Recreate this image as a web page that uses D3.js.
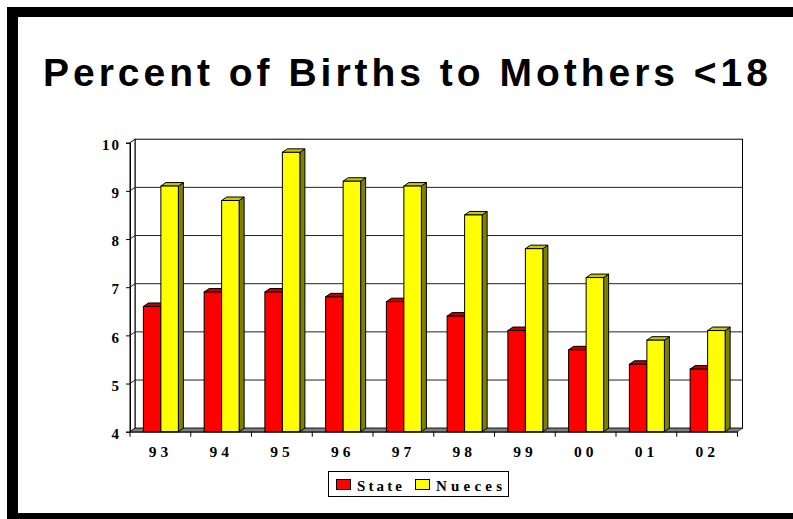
<!DOCTYPE html>
<html>
<head>
<meta charset="utf-8">
<script src="https://cdn.jsdelivr.net/npm/d3@7"></script>
<style>
  body { margin: 0; background: #fff; }
  .serif { font-family: "Liberation Serif", "Times New Roman", Tinos, Times, serif; font-weight: bold; }
</style>
</head>
<body>
<svg id="chart" width="793" height="519"></svg>
<script>
// data
const years = ["93", "94", "95", "96", "97", "98", "99", "00", "01", "02"];
const stateVals = [6.6, 6.9, 6.9, 6.8, 6.7, 6.4, 6.1, 5.7, 5.4, 5.3];
const nuecesVals = [9.1, 8.8, 9.8, 9.2, 9.1, 8.5, 7.8, 7.2, 5.9, 6.1];
const yTicks = [4, 5, 6, 7, 8, 9, 10];
const seriesNames = ["State", "Nueces"];

const svg = d3.select("#chart");

// frame: thick black border top/left/bottom
svg.append("rect").attr("x", 7).attr("y", 7).attr("width", 800).attr("height", 520).attr("fill", "#000");
svg.append("rect").attr("x", 18).attr("y", 17).attr("width", 800).attr("height", 496).attr("fill", "#fff");

// title
svg.append("text")
    .attr("x", 43)
    .attr("y", 86)
    .attr("textLength", 725)
    .attr("lengthAdjust", "spacing")
    .style("font-family", "'Liberation Sans', Arial, sans-serif")
    .style("font-weight", "bold")
    .style("font-size", "39px")
    .text("Percent of Births to Mothers <18");

// 3d depth offsets
const dx = 5, dy = -3.5;

const x = d3.scaleBand().domain(years).range([130, 737.5]).paddingInner(0).paddingOuter(0);
const y = d3.scaleLinear().domain([4, 10]).range([431.7, 142.7]);
const barW = 17.5;

const colors = {
    State: { front: "#ff0000", side: "#800000", top: "#c00000" },
    Nueces: { front: "#ffff00", side: "#808000", top: "#c8c800" }
};

const g = svg.append("g");

// back wall
g.append("rect")
    .attr("x", x.range()[0] + dx)
    .attr("y", y(10) + dy)
    .attr("width", x.range()[1] - x.range()[0])
    .attr("height", y(4) - y(10))
    .attr("fill", "#fff")
    .attr("stroke", "#000")
    .attr("stroke-width", 1);

// left wall
g.append("path")
    .attr("d", `M${x.range()[0]},${y(10)} L${x.range()[0] + dx},${y(10) + dy} L${x.range()[0] + dx},${y(4) + dy} L${x.range()[0]},${y(4)} Z`)
    .attr("fill", "#fff")
    .attr("stroke", "#000")
    .attr("stroke-width", 1);

// gridlines on back and left walls
yTicks.filter(d => d > 4 && d < 10).forEach(v => {
    g.append("line")
        .attr("x1", x.range()[0] + dx).attr("x2", x.range()[1] + dx)
        .attr("y1", y(v) + dy).attr("y2", y(v) + dy)
        .attr("stroke", "#222").attr("stroke-width", 1);
    g.append("line")
        .attr("x1", x.range()[0]).attr("x2", x.range()[0] + dx)
        .attr("y1", y(v)).attr("y2", y(v) + dy)
        .attr("stroke", "#222").attr("stroke-width", 1);
});

// floor
g.append("path")
    .attr("d", `M${x.range()[0]},${y(4)} L${x.range()[0] + dx},${y(4) + dy} L${x.range()[1] + dx},${y(4) + dy} L${x.range()[1]},${y(4)} Z`)
    .attr("fill", "#808080")
    .attr("stroke", "#000")
    .attr("stroke-width", 0.6);

// bars
const bars = [];
years.forEach((yr, i) => {
    const c = x(yr) + x.bandwidth() / 2 + 0.5;
    bars.push({ key: "State", x0: c - barW, v: stateVals[i] });
    bars.push({ key: "Nueces", x0: c, v: nuecesVals[i] });
});

const bar = g.selectAll("g.bar").data(bars).join("g").attr("class", "bar");

bar.append("path") // side
    .attr("d", d => {
        const xr = d.x0 + barW, yt = y(d.v), yb = y(4);
        return `M${xr},${yt} L${xr + dx},${yt + dy} L${xr + dx},${yb + dy} L${xr},${yb} Z`;
    })
    .attr("fill", d => colors[d.key].side)
    .attr("stroke", "#000").attr("stroke-width", 1).attr("stroke-linejoin", "round");

bar.append("path") // top
    .attr("d", d => {
        const yt = y(d.v);
        return `M${d.x0},${yt} L${d.x0 + dx},${yt + dy} L${d.x0 + barW + dx},${yt + dy} L${d.x0 + barW},${yt} Z`;
    })
    .attr("fill", d => colors[d.key].top)
    .attr("stroke", "#000").attr("stroke-width", 1).attr("stroke-linejoin", "round");

bar.append("rect") // front
    .attr("x", d => d.x0)
    .attr("y", d => y(d.v))
    .attr("width", barW)
    .attr("height", d => y(4) - y(d.v))
    .attr("fill", d => colors[d.key].front)
    .attr("stroke", "#000").attr("stroke-width", 1);

// y axis
const yAxis = d3.axisLeft(y).tickValues(yTicks).tickSize(4).tickFormat(d3.format("d"));
const ya = svg.append("g").attr("transform", `translate(${x.range()[0]},0)`).call(yAxis)
    .attr("font-family", null).attr("font-size", null).attr("class", "serif");
ya.select(".domain").attr("stroke", "#000");
ya.selectAll(".tick text").attr("fill", "#000").attr("x", -9).attr("dy", "0.45em")
    .attr("font-size", 15)
    .attr("letter-spacing", "2px");

// x axis
const xAxis = d3.axisBottom(x).tickSize(0);
const xa = svg.append("g").attr("transform", `translate(0,${y(4)})`).call(xAxis)
    .attr("font-family", null).attr("font-size", null).attr("class", "serif");
xa.select(".domain").attr("stroke", "#000");
xa.selectAll(".tick text").attr("fill", "#000").attr("y", 14).attr("dy", "0.71em")
    .attr("font-size", 15.5)
    .attr("letter-spacing", "4px")
    .attr("dx", "0px");
// category separators
xa.selectAll(".sep").data(years.concat(["end"])).join("line")
    .attr("class", "sep")
    .attr("x1", d => d === "end" ? x.range()[1] : x(d))
    .attr("x2", d => d === "end" ? x.range()[1] : x(d))
    .attr("y1", 0).attr("y2", 5)
    .attr("stroke", "#000");

// legend
const legend = svg.append("g").attr("class", "serif");
legend.append("rect")
    .attr("x", 328.5).attr("y", 471.5).attr("width", 180).attr("height", 25)
    .attr("fill", "#fff").attr("stroke", "#000").attr("stroke-width", 1);
const legendItems = [
    { name: seriesNames[0], sx: 336, tx: 357, tw: 45 },
    { name: seriesNames[1], sx: 415, tx: 436, tw: 66 }
];
legendItems.forEach(it => {
    legend.append("rect")
        .attr("x", it.sx + 0.5).attr("y", 479.5).attr("width", 14).attr("height", 10)
        .attr("fill", colors[it.name].front).attr("stroke", "#000").attr("stroke-width", 1);
    legend.append("text")
        .attr("x", it.tx).attr("y", 490.5)
        .attr("textLength", it.tw).attr("lengthAdjust", "spacing")
        .attr("font-size", 15)
        .text(it.name);
});
</script>
</body>
</html>
